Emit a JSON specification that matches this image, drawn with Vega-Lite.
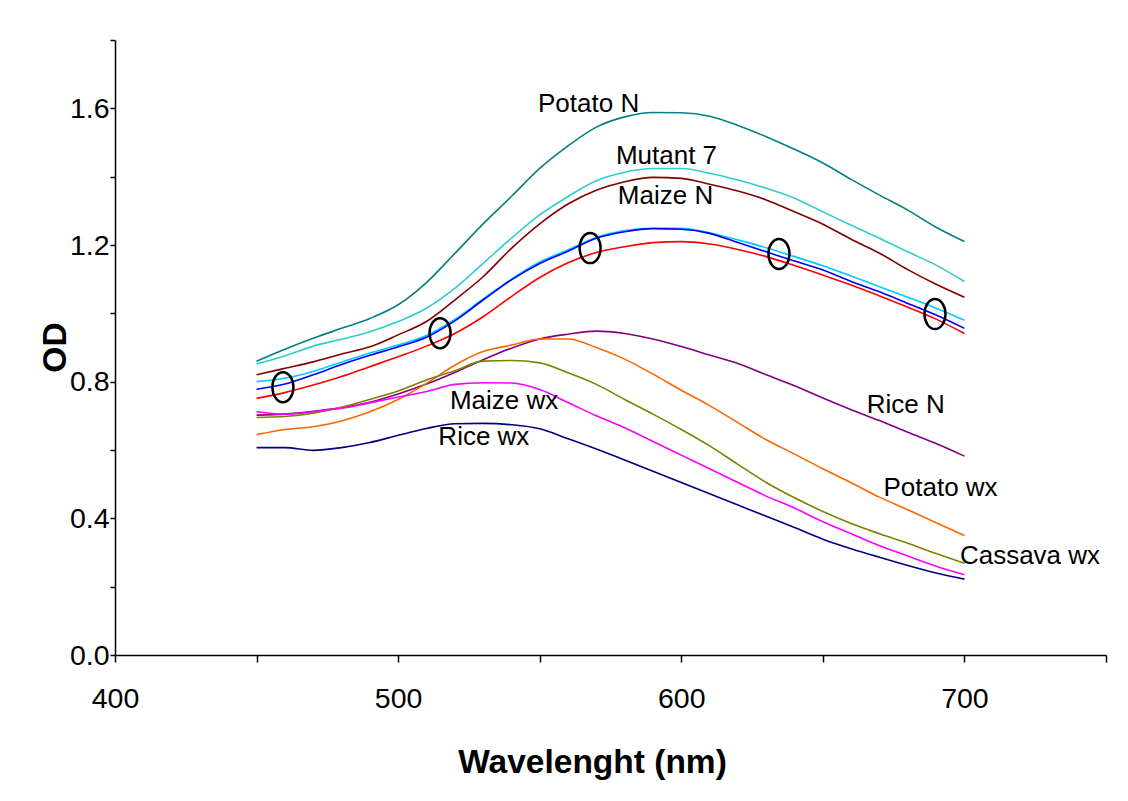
{
  "$schema": "https://vega.github.io/schema/vega-lite/v6.json",
  "width": 991,
  "height": 615,
  "autosize": "none",
  "padding": {"left": 115, "top": 40, "right": 22, "bottom": 146},
  "background": "white",
  "config": {"view": {"stroke": null}, "font": "Liberation Sans"},
  "datasets": {
    "curves": [
      {"series":"Potato N","wavelength":450,"od":0.860},{"series":"Potato N","wavelength":460,"od":0.895},{"series":"Potato N","wavelength":470,"od":0.927},{"series":"Potato N","wavelength":480,"od":0.956},{"series":"Potato N","wavelength":490,"od":0.985},{"series":"Potato N","wavelength":500,"od":1.025},{"series":"Potato N","wavelength":510,"od":1.090},{"series":"Potato N","wavelength":520,"od":1.175},{"series":"Potato N","wavelength":530,"od":1.262},{"series":"Potato N","wavelength":540,"od":1.342},{"series":"Potato N","wavelength":550,"od":1.424},{"series":"Potato N","wavelength":560,"od":1.490},{"series":"Potato N","wavelength":570,"od":1.545},{"series":"Potato N","wavelength":580,"od":1.575},{"series":"Potato N","wavelength":590,"od":1.588},{"series":"Potato N","wavelength":600,"od":1.587},{"series":"Potato N","wavelength":610,"od":1.577},{"series":"Potato N","wavelength":620,"od":1.550},{"series":"Potato N","wavelength":630,"od":1.517},{"series":"Potato N","wavelength":640,"od":1.480},{"series":"Potato N","wavelength":650,"od":1.440},{"series":"Potato N","wavelength":660,"od":1.392},{"series":"Potato N","wavelength":670,"od":1.346},{"series":"Potato N","wavelength":680,"od":1.302},{"series":"Potato N","wavelength":690,"od":1.252},{"series":"Potato N","wavelength":700,"od":1.210},
      {"series":"Mutant 7","wavelength":450,"od":0.852},{"series":"Mutant 7","wavelength":460,"od":0.875},{"series":"Mutant 7","wavelength":470,"od":0.904},{"series":"Mutant 7","wavelength":480,"od":0.924},{"series":"Mutant 7","wavelength":490,"od":0.946},{"series":"Mutant 7","wavelength":500,"od":0.976},{"series":"Mutant 7","wavelength":510,"od":1.015},{"series":"Mutant 7","wavelength":520,"od":1.073},{"series":"Mutant 7","wavelength":530,"od":1.146},{"series":"Mutant 7","wavelength":540,"od":1.220},{"series":"Mutant 7","wavelength":550,"od":1.288},{"series":"Mutant 7","wavelength":560,"od":1.342},{"series":"Mutant 7","wavelength":570,"od":1.388},{"series":"Mutant 7","wavelength":580,"od":1.413},{"series":"Mutant 7","wavelength":590,"od":1.424},{"series":"Mutant 7","wavelength":600,"od":1.424},{"series":"Mutant 7","wavelength":610,"od":1.410},{"series":"Mutant 7","wavelength":620,"od":1.390},{"series":"Mutant 7","wavelength":630,"od":1.366},{"series":"Mutant 7","wavelength":640,"od":1.337},{"series":"Mutant 7","wavelength":650,"od":1.297},{"series":"Mutant 7","wavelength":660,"od":1.258},{"series":"Mutant 7","wavelength":670,"od":1.220},{"series":"Mutant 7","wavelength":680,"od":1.180},{"series":"Mutant 7","wavelength":690,"od":1.141},{"series":"Mutant 7","wavelength":700,"od":1.093},
      {"series":"Maize N","wavelength":450,"od":0.820},{"series":"Maize N","wavelength":460,"od":0.839},{"series":"Maize N","wavelength":470,"od":0.858},{"series":"Maize N","wavelength":480,"od":0.881},{"series":"Maize N","wavelength":490,"od":0.902},{"series":"Maize N","wavelength":500,"od":0.937},{"series":"Maize N","wavelength":510,"od":0.976},{"series":"Maize N","wavelength":520,"od":1.039},{"series":"Maize N","wavelength":530,"od":1.107},{"series":"Maize N","wavelength":540,"od":1.190},{"series":"Maize N","wavelength":550,"od":1.262},{"series":"Maize N","wavelength":560,"od":1.320},{"series":"Maize N","wavelength":570,"od":1.360},{"series":"Maize N","wavelength":580,"od":1.385},{"series":"Maize N","wavelength":590,"od":1.398},{"series":"Maize N","wavelength":600,"od":1.395},{"series":"Maize N","wavelength":610,"od":1.378},{"series":"Maize N","wavelength":620,"od":1.358},{"series":"Maize N","wavelength":630,"od":1.332},{"series":"Maize N","wavelength":640,"od":1.297},{"series":"Maize N","wavelength":650,"od":1.261},{"series":"Maize N","wavelength":660,"od":1.217},{"series":"Maize N","wavelength":670,"od":1.176},{"series":"Maize N","wavelength":680,"od":1.128},{"series":"Maize N","wavelength":690,"od":1.085},{"series":"Maize N","wavelength":700,"od":1.047},
      {"series":"Sample 4","wavelength":450,"od":0.800},{"series":"Sample 4","wavelength":460,"od":0.810},{"series":"Sample 4","wavelength":470,"od":0.830},{"series":"Sample 4","wavelength":480,"od":0.857},{"series":"Sample 4","wavelength":490,"od":0.884},{"series":"Sample 4","wavelength":500,"od":0.907},{"series":"Sample 4","wavelength":510,"od":0.935},{"series":"Sample 4","wavelength":520,"od":0.982},{"series":"Sample 4","wavelength":530,"od":1.042},{"series":"Sample 4","wavelength":540,"od":1.100},{"series":"Sample 4","wavelength":550,"od":1.150},{"series":"Sample 4","wavelength":560,"od":1.186},{"series":"Sample 4","wavelength":570,"od":1.222},{"series":"Sample 4","wavelength":580,"od":1.242},{"series":"Sample 4","wavelength":590,"od":1.249},{"series":"Sample 4","wavelength":600,"od":1.249},{"series":"Sample 4","wavelength":610,"od":1.236},{"series":"Sample 4","wavelength":620,"od":1.215},{"series":"Sample 4","wavelength":630,"od":1.192},{"series":"Sample 4","wavelength":640,"od":1.166},{"series":"Sample 4","wavelength":650,"od":1.139},{"series":"Sample 4","wavelength":660,"od":1.109},{"series":"Sample 4","wavelength":670,"od":1.078},{"series":"Sample 4","wavelength":680,"od":1.047},{"series":"Sample 4","wavelength":690,"od":1.015},{"series":"Sample 4","wavelength":700,"od":0.980},
      {"series":"Sample 5","wavelength":450,"od":0.778},{"series":"Sample 5","wavelength":460,"od":0.793},{"series":"Sample 5","wavelength":470,"od":0.820},{"series":"Sample 5","wavelength":480,"od":0.850},{"series":"Sample 5","wavelength":490,"od":0.877},{"series":"Sample 5","wavelength":500,"od":0.902},{"series":"Sample 5","wavelength":510,"od":0.930},{"series":"Sample 5","wavelength":520,"od":0.978},{"series":"Sample 5","wavelength":530,"od":1.039},{"series":"Sample 5","wavelength":540,"od":1.098},{"series":"Sample 5","wavelength":550,"od":1.146},{"series":"Sample 5","wavelength":560,"od":1.182},{"series":"Sample 5","wavelength":570,"od":1.220},{"series":"Sample 5","wavelength":580,"od":1.239},{"series":"Sample 5","wavelength":590,"od":1.248},{"series":"Sample 5","wavelength":600,"od":1.246},{"series":"Sample 5","wavelength":610,"od":1.234},{"series":"Sample 5","wavelength":620,"od":1.207},{"series":"Sample 5","wavelength":630,"od":1.180},{"series":"Sample 5","wavelength":640,"od":1.153},{"series":"Sample 5","wavelength":650,"od":1.127},{"series":"Sample 5","wavelength":660,"od":1.093},{"series":"Sample 5","wavelength":670,"od":1.063},{"series":"Sample 5","wavelength":680,"od":1.029},{"series":"Sample 5","wavelength":690,"od":0.995},{"series":"Sample 5","wavelength":700,"od":0.956},
      {"series":"Sample 6","wavelength":450,"od":0.751},{"series":"Sample 6","wavelength":460,"od":0.768},{"series":"Sample 6","wavelength":470,"od":0.790},{"series":"Sample 6","wavelength":480,"od":0.815},{"series":"Sample 6","wavelength":490,"od":0.844},{"series":"Sample 6","wavelength":500,"od":0.873},{"series":"Sample 6","wavelength":510,"od":0.904},{"series":"Sample 6","wavelength":520,"od":0.941},{"series":"Sample 6","wavelength":530,"od":0.990},{"series":"Sample 6","wavelength":540,"od":1.049},{"series":"Sample 6","wavelength":550,"od":1.105},{"series":"Sample 6","wavelength":560,"od":1.148},{"series":"Sample 6","wavelength":570,"od":1.178},{"series":"Sample 6","wavelength":580,"od":1.195},{"series":"Sample 6","wavelength":590,"od":1.207},{"series":"Sample 6","wavelength":600,"od":1.210},{"series":"Sample 6","wavelength":610,"od":1.203},{"series":"Sample 6","wavelength":620,"od":1.187},{"series":"Sample 6","wavelength":630,"od":1.166},{"series":"Sample 6","wavelength":640,"od":1.140},{"series":"Sample 6","wavelength":650,"od":1.112},{"series":"Sample 6","wavelength":660,"od":1.083},{"series":"Sample 6","wavelength":670,"od":1.051},{"series":"Sample 6","wavelength":680,"od":1.018},{"series":"Sample 6","wavelength":690,"od":0.983},{"series":"Sample 6","wavelength":700,"od":0.941},
      {"series":"Rice N","wavelength":450,"od":0.702},{"series":"Rice N","wavelength":460,"od":0.705},{"series":"Rice N","wavelength":470,"od":0.713},{"series":"Rice N","wavelength":480,"od":0.724},{"series":"Rice N","wavelength":490,"od":0.740},{"series":"Rice N","wavelength":500,"od":0.764},{"series":"Rice N","wavelength":510,"od":0.793},{"series":"Rice N","wavelength":520,"od":0.827},{"series":"Rice N","wavelength":530,"od":0.864},{"series":"Rice N","wavelength":540,"od":0.898},{"series":"Rice N","wavelength":550,"od":0.925},{"series":"Rice N","wavelength":560,"od":0.939},{"series":"Rice N","wavelength":570,"od":0.948},{"series":"Rice N","wavelength":580,"od":0.941},{"series":"Rice N","wavelength":590,"od":0.925},{"series":"Rice N","wavelength":600,"od":0.903},{"series":"Rice N","wavelength":610,"od":0.878},{"series":"Rice N","wavelength":620,"od":0.853},{"series":"Rice N","wavelength":630,"od":0.820},{"series":"Rice N","wavelength":640,"od":0.788},{"series":"Rice N","wavelength":650,"od":0.752},{"series":"Rice N","wavelength":660,"od":0.718},{"series":"Rice N","wavelength":670,"od":0.686},{"series":"Rice N","wavelength":680,"od":0.652},{"series":"Rice N","wavelength":690,"od":0.619},{"series":"Rice N","wavelength":700,"od":0.582},
      {"series":"Potato wx","wavelength":450,"od":0.645},{"series":"Potato wx","wavelength":460,"od":0.660},{"series":"Potato wx","wavelength":470,"od":0.668},{"series":"Potato wx","wavelength":480,"od":0.685},{"series":"Potato wx","wavelength":490,"od":0.712},{"series":"Potato wx","wavelength":500,"od":0.748},{"series":"Potato wx","wavelength":510,"od":0.795},{"series":"Potato wx","wavelength":520,"od":0.848},{"series":"Potato wx","wavelength":530,"od":0.888},{"series":"Potato wx","wavelength":540,"od":0.907},{"series":"Potato wx","wavelength":550,"od":0.925},{"series":"Potato wx","wavelength":560,"od":0.925},{"series":"Potato wx","wavelength":570,"od":0.900},{"series":"Potato wx","wavelength":580,"od":0.866},{"series":"Potato wx","wavelength":590,"od":0.822},{"series":"Potato wx","wavelength":600,"od":0.775},{"series":"Potato wx","wavelength":610,"od":0.730},{"series":"Potato wx","wavelength":620,"od":0.680},{"series":"Potato wx","wavelength":630,"od":0.630},{"series":"Potato wx","wavelength":640,"od":0.588},{"series":"Potato wx","wavelength":650,"od":0.545},{"series":"Potato wx","wavelength":660,"od":0.504},{"series":"Potato wx","wavelength":670,"od":0.462},{"series":"Potato wx","wavelength":680,"od":0.425},{"series":"Potato wx","wavelength":690,"od":0.387},{"series":"Potato wx","wavelength":700,"od":0.350},
      {"series":"Cassava wx","wavelength":450,"od":0.695},{"series":"Cassava wx","wavelength":460,"od":0.698},{"series":"Cassava wx","wavelength":470,"od":0.708},{"series":"Cassava wx","wavelength":480,"od":0.725},{"series":"Cassava wx","wavelength":490,"od":0.748},{"series":"Cassava wx","wavelength":500,"od":0.773},{"series":"Cassava wx","wavelength":510,"od":0.805},{"series":"Cassava wx","wavelength":520,"od":0.832},{"series":"Cassava wx","wavelength":530,"od":0.860},{"series":"Cassava wx","wavelength":540,"od":0.862},{"series":"Cassava wx","wavelength":550,"od":0.855},{"series":"Cassava wx","wavelength":560,"od":0.826},{"series":"Cassava wx","wavelength":570,"od":0.792},{"series":"Cassava wx","wavelength":580,"od":0.748},{"series":"Cassava wx","wavelength":590,"od":0.705},{"series":"Cassava wx","wavelength":600,"od":0.660},{"series":"Cassava wx","wavelength":610,"od":0.612},{"series":"Cassava wx","wavelength":620,"od":0.558},{"series":"Cassava wx","wavelength":630,"od":0.505},{"series":"Cassava wx","wavelength":640,"od":0.460},{"series":"Cassava wx","wavelength":650,"od":0.420},{"series":"Cassava wx","wavelength":660,"od":0.385},{"series":"Cassava wx","wavelength":670,"od":0.355},{"series":"Cassava wx","wavelength":680,"od":0.327},{"series":"Cassava wx","wavelength":690,"od":0.297},{"series":"Cassava wx","wavelength":700,"od":0.268},
      {"series":"Maize wx","wavelength":450,"od":0.712},{"series":"Maize wx","wavelength":460,"od":0.705},{"series":"Maize wx","wavelength":470,"od":0.712},{"series":"Maize wx","wavelength":480,"od":0.722},{"series":"Maize wx","wavelength":490,"od":0.738},{"series":"Maize wx","wavelength":500,"od":0.755},{"series":"Maize wx","wavelength":510,"od":0.771},{"series":"Maize wx","wavelength":520,"od":0.792},{"series":"Maize wx","wavelength":530,"od":0.797},{"series":"Maize wx","wavelength":540,"od":0.796},{"series":"Maize wx","wavelength":550,"od":0.777},{"series":"Maize wx","wavelength":560,"od":0.739},{"series":"Maize wx","wavelength":570,"od":0.700},{"series":"Maize wx","wavelength":580,"od":0.665},{"series":"Maize wx","wavelength":590,"od":0.625},{"series":"Maize wx","wavelength":600,"od":0.585},{"series":"Maize wx","wavelength":610,"od":0.545},{"series":"Maize wx","wavelength":620,"od":0.505},{"series":"Maize wx","wavelength":630,"od":0.465},{"series":"Maize wx","wavelength":640,"od":0.430},{"series":"Maize wx","wavelength":650,"od":0.390},{"series":"Maize wx","wavelength":660,"od":0.355},{"series":"Maize wx","wavelength":670,"od":0.320},{"series":"Maize wx","wavelength":680,"od":0.290},{"series":"Maize wx","wavelength":690,"od":0.260},{"series":"Maize wx","wavelength":700,"od":0.235},
      {"series":"Rice wx","wavelength":450,"od":0.607},{"series":"Rice wx","wavelength":460,"od":0.607},{"series":"Rice wx","wavelength":470,"od":0.599},{"series":"Rice wx","wavelength":480,"od":0.607},{"series":"Rice wx","wavelength":490,"od":0.622},{"series":"Rice wx","wavelength":500,"od":0.643},{"series":"Rice wx","wavelength":510,"od":0.663},{"series":"Rice wx","wavelength":520,"od":0.677},{"series":"Rice wx","wavelength":530,"od":0.678},{"series":"Rice wx","wavelength":540,"od":0.674},{"series":"Rice wx","wavelength":550,"od":0.662},{"series":"Rice wx","wavelength":560,"od":0.633},{"series":"Rice wx","wavelength":570,"od":0.603},{"series":"Rice wx","wavelength":580,"od":0.571},{"series":"Rice wx","wavelength":590,"od":0.538},{"series":"Rice wx","wavelength":600,"od":0.505},{"series":"Rice wx","wavelength":610,"od":0.472},{"series":"Rice wx","wavelength":620,"od":0.439},{"series":"Rice wx","wavelength":630,"od":0.406},{"series":"Rice wx","wavelength":640,"od":0.373},{"series":"Rice wx","wavelength":650,"od":0.339},{"series":"Rice wx","wavelength":660,"od":0.311},{"series":"Rice wx","wavelength":670,"od":0.286},{"series":"Rice wx","wavelength":680,"od":0.262},{"series":"Rice wx","wavelength":690,"od":0.240},{"series":"Rice wx","wavelength":700,"od":0.222}
    ],
    "circles": [
      {"wavelength":459.3,"od":0.784},
      {"wavelength":514.8,"od":0.942},
      {"wavelength":567.8,"od":1.191},
      {"wavelength":634.5,"od":1.174},
      {"wavelength":689.6,"od":0.998}
    ],
    "labels": [
      {"label":"Potato N","wavelength":549.4,"od":1.613},
      {"label":"Mutant 7","wavelength":576.9,"od":1.460},
      {"label":"Maize N","wavelength":577.6,"od":1.343},
      {"label":"Rice N","wavelength":665.5,"od":0.732},
      {"label":"Potato wx","wavelength":671.4,"od":0.490},
      {"label":"Cassava wx","wavelength":698.4,"od":0.290},
      {"label":"Maize wx","wavelength":518.3,"od":0.743},
      {"label":"Rice wx","wavelength":514.2,"od":0.637}
    ]
  },
  "encoding": {
    "x": {
      "field": "wavelength", "type": "quantitative",
      "scale": {"domain": [400, 750], "nice": false, "zero": false},
      "axis": {
        "values": [400, 450, 500, 550, 600, 650, 700, 750],
        "labelExpr": "datum.value % 100 == 0 && datum.value < 750 ? '' + datum.value : ''",
        "grid": false, "domainColor": "black", "domainWidth": 1.5,
        "tickColor": "black", "tickWidth": 1.5, "tickSize": 7,
        "labelFont": "Liberation Sans", "labelFontSize": 28.5, "labelColor": "black", "labelPadding": 22,
        "labelFlush": false, "labelOverlap": false,
        "title": "Wavelenght (nm)", "titleFont": "Liberation Sans", "titleFontSize": 33.5, "titleFontWeight": "bold",
        "titleColor": "black", "titleX": 477, "titleY": 107, "titleBaseline": "middle", "titleAlign": "center"
      }
    },
    "y": {
      "field": "od", "type": "quantitative",
      "scale": {"domain": [0, 1.8], "nice": false, "zero": true},
      "axis": {
        "values": [0, 0.2, 0.4, 0.6, 0.8, 1.0, 1.2, 1.4, 1.6, 1.8],
        "labelExpr": "round(datum.value * 10) % 4 == 0 ? format(datum.value, '.1f') : ''",
        "grid": false, "domainColor": "black", "domainWidth": 1.5,
        "tickColor": "black", "tickWidth": 1.5, "tickSize": 5,
        "labelFont": "Liberation Sans", "labelFontSize": 28.5, "labelColor": "black", "labelPadding": 1,
        "labelFlush": false, "labelOverlap": false,
        "title": "OD", "titleFont": "Liberation Sans", "titleFontSize": 33.5, "titleFontWeight": "bold",
        "titleColor": "black", "titleX": -60, "titleY": 307, "titleBaseline": "middle", "titleAlign": "center", "titleAngle": -90
      }
    }
  },
  "layer": [
    {
      "data": {"name": "curves"},
      "mark": {"type": "line", "strokeWidth": 1.6, "interpolate": "monotone"},
      "encoding": {
        "color": {
          "field": "series", "type": "nominal", "legend": null,
          "scale": {
            "domain": ["Potato N", "Mutant 7", "Maize N", "Sample 4", "Sample 5", "Sample 6", "Rice N", "Potato wx", "Cassava wx", "Maize wx", "Rice wx"],
            "range": ["#008080", "#33CCCC", "#800000", "#00CCFF", "#0000FF", "#FF0000", "#800080", "#FF6600", "#808000", "#FF00FF", "#000080"]
          }
        },
        "detail": {"field": "series"}
      }
    },
    {
      "data": {"name": "circles"},
      "mark": {
        "type": "point", "filled": false, "stroke": "black", "strokeWidth": 2.5, "size": 900, "opacity": 1,
        "shape": "M0,-1C0.39,-1,0.7,-0.55,0.7,0C0.7,0.55,0.39,1,0,1C-0.39,1,-0.7,0.55,-0.7,0C-0.7,-0.55,-0.39,-1,0,-1Z"
      }
    },
    {
      "data": {"name": "labels"},
      "mark": {"type": "text", "align": "left", "baseline": "middle", "font": "Liberation Sans", "fontSize": 26, "color": "black"},
      "encoding": {"text": {"field": "label"}}
    }
  ]
}
